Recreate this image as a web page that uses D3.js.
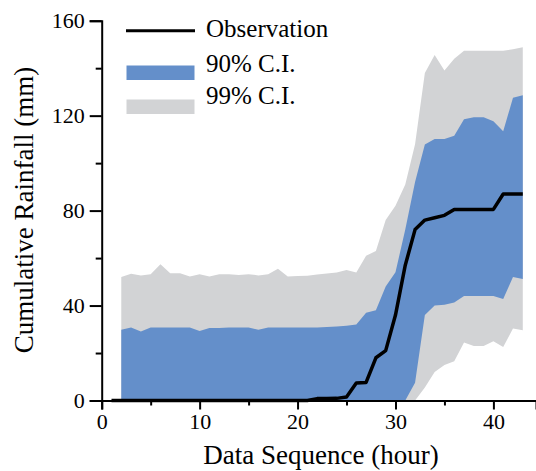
<!DOCTYPE html>
<html>
<head>
<meta charset="utf-8">
<script src="https://cdn.jsdelivr.net/npm/d3@7/dist/d3.min.js"></script>
<style>
body { margin: 0; background: #fff; }
text { font-family: "Liberation Serif", "Times New Roman", serif; fill: #000; }
</style>
</head>
<body>
<div id="container"></div>
<script>
// observed cumulative rainfall, hour 1..43
var obsHours = [1, 2, 3, 4, 5, 6, 7, 8, 9, 10, 11, 12, 13, 14, 15, 16, 17, 18, 19, 20,
    21, 22, 23, 24, 25, 26, 27, 28, 29, 30, 31, 32, 33, 34, 35, 36, 37, 38, 39, 40, 41, 42, 43];
var observation = [0, 0, 0, 0, 0, 0, 0, 0, 0, 0,
    0, 0, 0, 0, 0, 0, 0, 0, 0, 0,
    0, 0.8, 0.8, 0.9, 1.5, 7.4, 7.6, 18, 21, 36,
    57, 72, 76, 77, 78, 80.5, 80.5, 80.5, 80.5, 80.5,
    87, 87, 87];

// confidence bands, hour 2..43
var bandHours = [2, 3, 4, 5, 6, 7, 8, 9, 10, 11, 12, 13, 14, 15, 16, 17, 18, 19, 20,
    21, 22, 23, 24, 25, 26, 27, 28, 29, 30, 31, 32, 33, 34, 35, 36, 37, 38, 39, 40, 41, 42, 43];
var upper99 = [52.0, 53.4, 52.7, 53.2, 57.4, 53.6, 53.6, 52.2, 53.2,
    52.2, 53.2, 53.2, 52.9, 53.2, 52.7, 53.2, 55.5, 52.2, 52.4,
    52.6, 53.1, 53.5, 53.9, 55, 53.9, 61, 63, 76, 82,
    91, 108, 138, 145.5, 139, 144, 147.3, 147.3, 147.3, 147.3,
    147.3, 148, 148.8];
var lower99 = [0, 0, 0, 0, 0, 0, 0, 0, 0,
    0, 0, 0, 0, 0, 0, 0, 0, 0, 0,
    0, 0, 0, 0, 0, 0, 0, 0, 0, 0,
    0, 0, 5.5, 12, 15, 16.5, 24.4, 23, 23, 25,
    22.5, 30.3, 29.6];
var upper90 = [29.8, 30.8, 29.1, 30.8, 30.8, 30.8, 30.8, 30.8, 29.3,
    30.5, 30.5, 30.8, 30.8, 30.8, 29.8, 30.8, 30.8, 30.8, 30.8,
    30.8, 30.8, 31, 31.2, 31.5, 32, 37, 38, 48, 54,
    72, 92, 107.8, 110.2, 110.2, 111.5, 118.5, 119.3, 119.3, 117.6,
    113.4, 127.5, 128.6];
var lower90 = [0, 0, 0, 0, 0, 0, 0, 0, 0,
    0, 0, 0, 0, 0, 0, 0, 0, 0, 0,
    0, 0, 0, 0, 0, 0, 0, 0, 0, 0,
    0, 7.5, 36, 40, 40.3, 41.3, 44, 44, 44, 44,
    42.8, 52, 51.2];

var xMajor = [0, 10, 20, 30, 40];
var xMinor = [5, 15, 25, 35];
var yMajor = [0, 40, 80, 120, 160];
var yMinor = [20, 60, 100, 140];

var legendItems = ['Observation', '90% C.I.', '99% C.I.'];

var blue = '#648fca';
var grey = '#d2d3d5';

var svg = d3.select('#container').append('svg')
    .attr('width', 536)
    .attr('height', 471);

var x = d3.scaleLinear().domain([0, 44.35]).range([101.7, 536]);
var y = d3.scaleLinear().domain([0, 160]).range([400.5, 20.7]);

var band = bandHours.map(function (h, i) {
    return { h: h, u99: upper99[i], l99: lower99[i], u90: upper90[i], l90: lower90[i] };
});
var obs = obsHours.map(function (h, i) {
    return { h: h, v: observation[i] };
});

var area99 = d3.area()
    .x(function (d) { return x(d.h); })
    .y0(function (d) { return y(d.l99); })
    .y1(function (d) { return y(d.u99); });
var area90 = d3.area()
    .x(function (d) { return x(d.h); })
    .y0(function (d) { return y(d.l90); })
    .y1(function (d) { return y(d.u90); });

svg.append('path').datum(band).attr('d', area99).attr('fill', grey);
svg.append('path').datum(band).attr('d', area90).attr('fill', blue);

// axes
function styleAxis(g) {
    g.selectAll('path, line').attr('stroke', '#000').attr('stroke-width', 2);
    g.selectAll('text')
        .style('font-family', '"Liberation Serif", "Times New Roman", serif')
        .style('font-size', '22px')
        .attr('fill', '#000');
}

var xAxis = svg.append('g')
    .attr('transform', 'translate(0,' + y(0) + ')')
    .call(d3.axisBottom(x).tickValues(xMajor).tickSizeOuter(0).tickSize(9).tickPadding(4));
styleAxis(xAxis);
var xAxisMinor = svg.append('g')
    .attr('transform', 'translate(0,' + y(0) + ')')
    .call(d3.axisBottom(x).tickValues(xMinor).tickSize(5).tickFormat(''));
xAxisMinor.select('.domain').remove();
styleAxis(xAxisMinor);

var yAxis = svg.append('g')
    .attr('transform', 'translate(' + x(0) + ',0)')
    .call(d3.axisLeft(y).tickValues(yMajor).tickSizeOuter(0).tickSize(12).tickPadding(5));
styleAxis(yAxis);
var yAxisMinor = svg.append('g')
    .attr('transform', 'translate(' + x(0) + ',0)')
    .call(d3.axisLeft(y).tickValues(yMinor).tickSize(6).tickFormat(''));
yAxisMinor.select('.domain').remove();
styleAxis(yAxisMinor);

// observation line
var line = d3.line()
    .x(function (d) { return x(d.h); })
    .y(function (d) { return y(d.v); });
svg.append('path').datum(obs)
    .attr('d', line)
    .attr('fill', 'none')
    .attr('stroke', '#000')
    .attr('stroke-width', 3.5)
    .attr('stroke-linejoin', 'round');

// axis titles
svg.append('text')
    .attr('x', 321)
    .attr('y', 464)
    .attr('text-anchor', 'middle')
    .style('font-size', '27px')
    .text('Data Sequence (hour)');
svg.append('text')
    .attr('transform', 'translate(33,210) rotate(-90)')
    .attr('text-anchor', 'middle')
    .style('font-size', '27px')
    .text('Cumulative Rainfall (mm)');

// legend
var legend = svg.append('g');
legend.append('line')
    .attr('x1', 126).attr('x2', 195)
    .attr('y1', 30.7).attr('y2', 30.7)
    .attr('stroke', '#000').attr('stroke-width', 3);
legend.append('rect')
    .attr('x', 126.5).attr('y', 65.5)
    .attr('width', 68).attr('height', 14.5)
    .attr('fill', blue);
legend.append('rect')
    .attr('x', 126.5).attr('y', 99.5)
    .attr('width', 68).attr('height', 14.5)
    .attr('fill', grey);
legend.selectAll('text.leg')
    .data(legendItems)
    .enter().append('text')
    .attr('class', 'leg')
    .attr('x', 206)
    .attr('y', function (d, i) { return [36.7, 71.7, 104.3][i]; })
    .style('font-size', '25px')
    .text(function (d) { return d; });
</script>
</body>
</html>
